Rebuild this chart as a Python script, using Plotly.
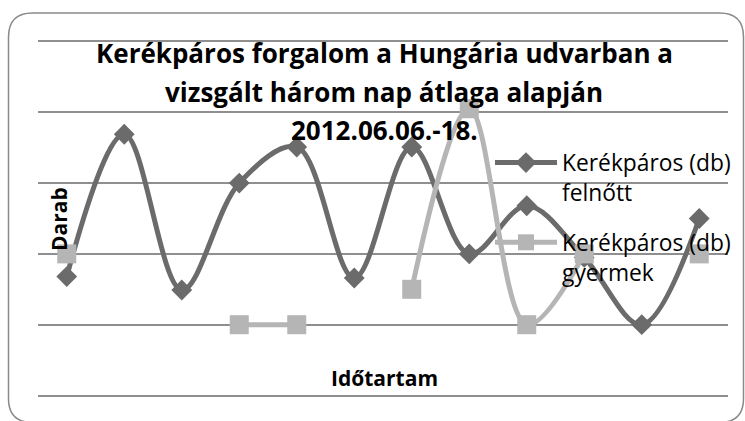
import plotly.graph_objects as go

categories = [str(i) for i in range(1, 13)]
felnott = [1.68, 3.69, 1.49, 3.0, 3.51, 1.66, 3.51, 2.0, 2.68, 1.95, 1.0, 2.5]
gyermek = [2.0, None, None, 1.0, 1.0, None, 1.5, 4.05, 1.0, 2.0, None, 2.0]

title_lines = ["Kerékpáros forgalom a Hungária udvarban a",
               "vizsgált három nap átlaga alapján",
               "2012.06.06.-18."]
name_felnott = "Kerékpáros (db)<br>felnőtt"
name_gyermek = "Kerékpáros (db)<br>gyermek"

W, H = 745, 421
YMIN, YMAX, EXT = 0, 5, 0.035
L, R = 38, 728
T0, B0 = 41, 396                      # pixel rows of value 5 and value 0
ppu = (B0 - T0) / (YMAX - YMIN)
T, B = T0 - EXT * ppu, B0 + EXT * ppu  # plot area slightly larger so edge gridlines show


def px(x):
    return (x - L) / (R - L)


def py(y):
    return (B - y) / (B - T)


DARK = "#6b6b6b"
LIGHT = "#b5b5b5"
GRID = "#8f8f8f"
FONT = "Open Sans"

fig = go.Figure()
fig.add_trace(go.Scatter(
    x=categories, y=felnott, name=name_felnott, mode="lines+markers",
    line=dict(color=DARK, width=5, shape="spline"),
    marker=dict(symbol="diamond", size=16, color=DARK),
    legend="legend",
))
fig.add_trace(go.Scatter(
    x=categories, y=gyermek, name=name_gyermek, mode="lines+markers",
    line=dict(color=LIGHT, width=5, shape="spline"),
    marker=dict(symbol="square", size=19, color=LIGHT),
    connectgaps=False,
    legend="legend2",
))

# outer rounded frame (bottom edge falls just outside the window)
x0, x1, y0, y1, r = 8.5, 743.5, 12.5, 423, 24
path = (f"M {px(x0 + r)},{py(y0)} L {px(x1 - r)},{py(y0)} "
        f"Q {px(x1)},{py(y0)} {px(x1)},{py(y0 + r)} "
        f"L {px(x1)},{py(y1 - r)} Q {px(x1)},{py(y1)} {px(x1 - r)},{py(y1)} "
        f"L {px(x0 + r)},{py(y1)} Q {px(x0)},{py(y1)} {px(x0)},{py(y1 - r)} "
        f"L {px(x0)},{py(y0 + r)} Q {px(x0)},{py(y0)} {px(x0 + r)},{py(y0)} Z")
fig.add_shape(type="path", path=path, xref="paper", yref="paper",
              line=dict(color="#8a8a8a", width=1.5), layer="below")

annotations = []
for txt, yc in zip(title_lines, [53, 92, 130]):
    annotations.append(dict(text=f"<b>{txt}</b>", x=px(384), y=py(yc),
                            xref="paper", yref="paper", showarrow=False,
                            xanchor="center", yanchor="middle",
                            font=dict(family=FONT, size=26, color="black")))
annotations.append(dict(text="<b>Időtartam</b>", x=px(384), y=py(378),
                        xref="paper", yref="paper", showarrow=False,
                        xanchor="center", yanchor="middle",
                        font=dict(family=FONT, size=21, color="black")))
annotations.append(dict(text="<b>Darab</b>", x=px(59), y=py(219),
                        xref="paper", yref="paper", showarrow=False, textangle=-90,
                        xanchor="center", yanchor="middle",
                        font=dict(family=FONT, size=21, color="black")))

legend_common = dict(bgcolor="rgba(0,0,0,0)", font=dict(family=FONT, size=22.8, color="black"),
                     xanchor="left", yanchor="top", valign="top", itemwidth=62,
                     itemclick=False, itemdoubleclick=False)

fig.update_layout(
    width=W, height=H,
    margin=dict(l=L, r=W - R, t=T, b=H - B, autoexpand=False),
    paper_bgcolor="white", plot_bgcolor="white",
    showlegend=True,
    legend=dict(x=px(490), y=py(141), **legend_common),
    legend2=dict(x=px(490), y=py(221), **legend_common),
    annotations=annotations,
    xaxis=dict(showticklabels=False, showgrid=False, zeroline=False, showline=False,
               ticks="", range=[-0.5, 11.5]),
    yaxis=dict(range=[YMIN - EXT, YMAX + EXT], dtick=1, tick0=0, showticklabels=False,
               showgrid=True, gridcolor=GRID, gridwidth=1.5,
               zeroline=True, zerolinecolor=GRID, zerolinewidth=1.5,
               showline=False, ticks=""),
)

fig.write_html("out.html", config={"displayModeBar": False},
               post_script="document.body.style.margin='0';document.documentElement.style.overflow='hidden';")
